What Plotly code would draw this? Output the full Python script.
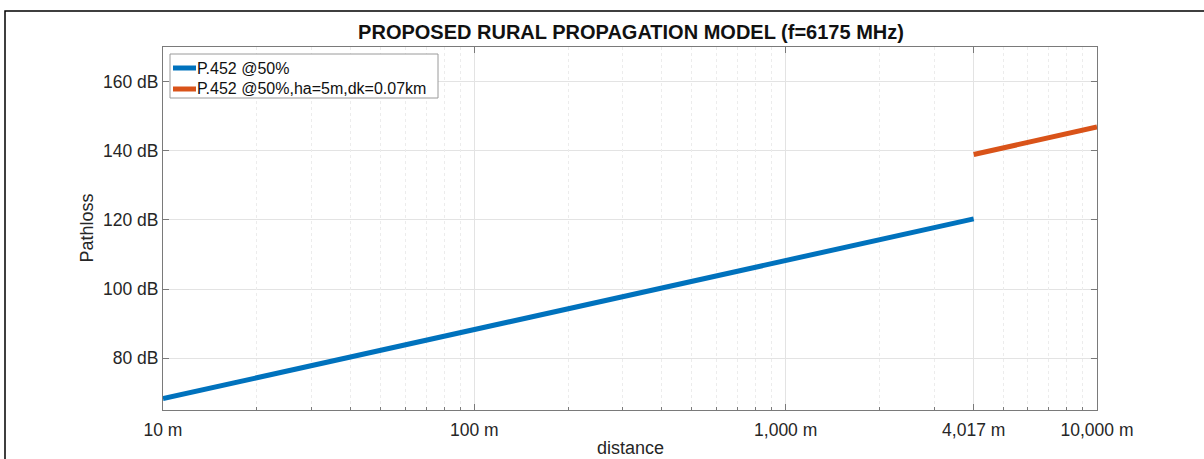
import plotly.graph_objects as go

# Path loss read at selected distances (metres -> dB)
dist_p452 = [10, 20, 50, 100, 200, 500, 1000, 2000, 4017]
loss_p452 = [68.3, 74.3, 82.3, 88.3, 94.3, 102.2, 108.3, 114.3, 120.3]

dist_p452_clutter = [4017, 5000, 6000, 7000, 8000, 9000, 10000]
loss_p452_clutter = [138.9, 140.8, 142.4, 143.7, 144.9, 145.9, 146.9]

series_names = ["P.452 @50%", "P.452 @50%,ha=5m,dk=0.07km"]
series_colors = ["#0072BD", "#D95319"]

x_tick_vals = [10, 100, 1000, 4017, 10000]
x_tick_text = ["10 m", "100 m", "1,000 m", "4,017 m", "10,000 m"]
x_minor_vals = [20, 30, 40, 50, 60, 70, 80, 90,
                200, 300, 400, 500, 600, 700, 800, 900,
                2000, 3000, 5000, 6000, 7000, 8000, 9000]
y_tick_vals = [80, 100, 120, 140, 160]
y_tick_text = ["80 dB", "100 dB", "120 dB", "140 dB", "160 dB"]

FONT = "Liberation Sans, Arial, sans-serif"
AX = "#7a7a7a"
TXT = "#262626"

# plot-area geometry in pixels (used to place legend box / frame in paper units)
L, R, T, B = 163, 1097, 47, 410


def px_x(px):
    return (px - L) / (R - L)


def px_y(py):
    return (B - py) / (B - T)


fig = go.Figure()
fig.add_trace(go.Scatter(x=dist_p452, y=loss_p452, mode="lines",
                         name=series_names[0], showlegend=False,
                         line=dict(color=series_colors[0], width=5)))
fig.add_trace(go.Scatter(x=dist_p452_clutter, y=loss_p452_clutter, mode="lines",
                         name=series_names[1], showlegend=False,
                         line=dict(color=series_colors[1], width=5)))
# invisible carrier for the minor-grid axis
fig.add_trace(go.Scatter(x=[10, 10000], y=[None, None], xaxis="x2",
                         showlegend=False, hoverinfo="skip"))

shapes = [
    # outer figure frame
    dict(type="rect", xref="paper", yref="paper",
         x0=px_x(5), x1=1.3, y0=-0.3, y1=px_y(11),
         line=dict(color="black", width=1.5), layer="below"),
    # legend box
    dict(type="rect", xref="paper", yref="paper",
         x0=px_x(170), x1=px_x(438), y0=px_y(98), y1=px_y(54),
         line=dict(color="#9a9a9a", width=1), fillcolor="white", layer="above"),
]
annotations = []
for i, (name, color) in enumerate(zip(series_names, series_colors)):
    row_y = 68 + 21 * i
    shapes.append(dict(type="line", xref="paper", yref="paper",
                       x0=px_x(173), x1=px_x(196), y0=px_y(row_y), y1=px_y(row_y),
                       line=dict(color=color, width=5), layer="above"))
    annotations.append(dict(text=name, xref="paper", yref="paper",
                            x=px_x(195), y=px_y(row_y), xanchor="left",
                            yanchor="middle", showarrow=False,
                            font=dict(size=16, color="#111111")))

annotations += [
    dict(text="distance", xref="paper", yref="paper",
         x=0.5, y=px_y(448), xanchor="center", yanchor="middle",
         showarrow=False, font=dict(size=18, color=TXT)),
    dict(text="Pathloss", xref="paper", yref="paper", textangle=-90,
         x=px_x(86), y=0.5, xanchor="center", yanchor="middle",
         showarrow=False, font=dict(size=18, color=TXT)),
]

fig.update_layout(
    width=1204, height=459,
    margin=dict(l=L, r=1204 - R, t=T, b=459 - B),
    paper_bgcolor="white", plot_bgcolor="white",
    font=dict(family=FONT, size=17, color=TXT),
    title=dict(text="<b>PROPOSED RURAL PROPAGATION MODEL (f=6175 MHz)</b>",
               x=631 / 1204, xanchor="center",
               y=1 - 32 / 459, yanchor="middle",
               font=dict(size=20, color="#111111")),
    showlegend=False,
    xaxis=dict(type="log", range=[1, 4], automargin=False,
               tickmode="array", tickvals=x_tick_vals, ticktext=x_tick_text,
               ticks="inside", ticklen=6, tickcolor=AX,
               ticklabelstandoff=4,
               showline=True, linecolor=AX, linewidth=1, mirror="ticks",
               showgrid=True, gridcolor="#e3e3e3", gridwidth=1,
               zeroline=False,
               tickfont=dict(size=17.5, color=TXT)),
    xaxis2=dict(type="log", range=[1, 4], overlaying="x", automargin=False,
                tickmode="array", tickvals=x_minor_vals,
                showticklabels=False,
                ticks="inside", ticklen=3, tickcolor=AX,
                showgrid=True, gridcolor="#ececec", griddash="dot", gridwidth=1,
                showline=False, zeroline=False, layer="below traces"),
    yaxis=dict(range=[65, 170], automargin=False,
               tickmode="array", tickvals=y_tick_vals, ticktext=y_tick_text,
               ticks="inside", ticklen=6, tickcolor=AX,
               showline=True, linecolor=AX, linewidth=1, mirror="ticks",
               showgrid=True, gridcolor="#e3e3e3", gridwidth=1,
               zeroline=False,
               tickfont=dict(size=17.5, color=TXT)),
    shapes=shapes,
    annotations=annotations,
)

fig.write_html("out.html")
